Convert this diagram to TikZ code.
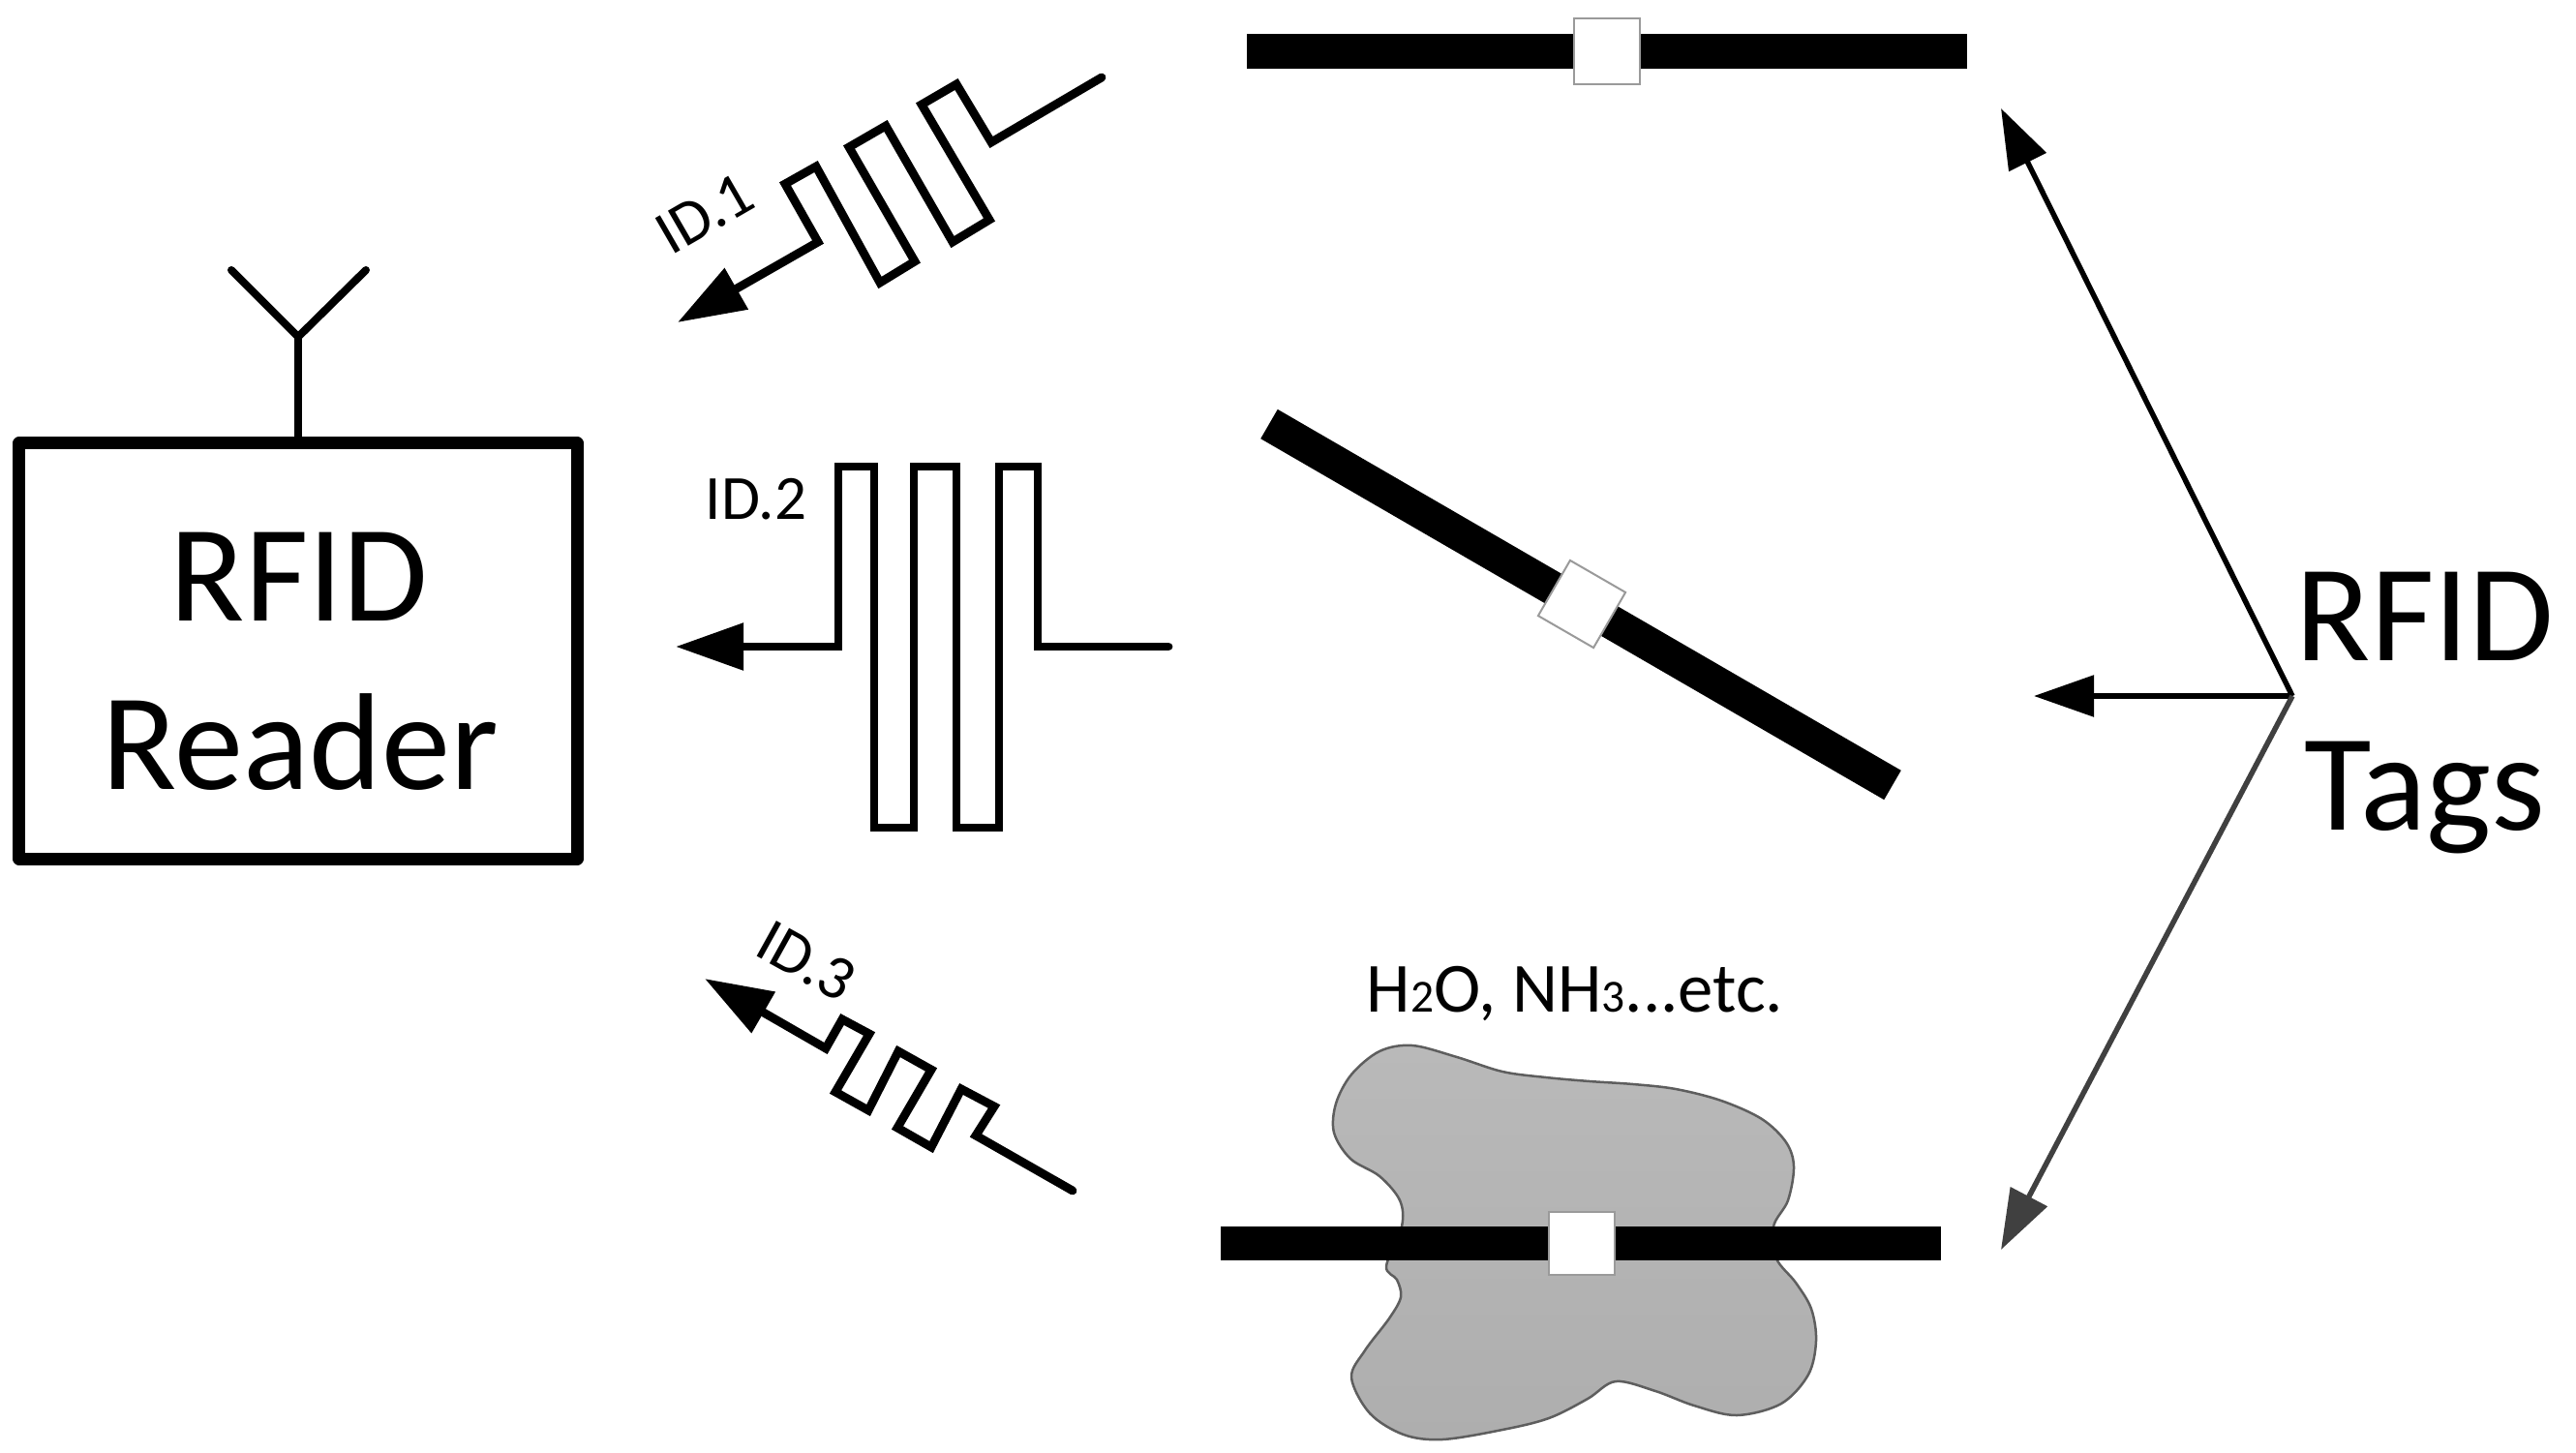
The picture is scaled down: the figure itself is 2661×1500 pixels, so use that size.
\documentclass[tikz,border=0pt]{standalone}
\usepackage{fontspec}
\setmainfont{Carlito}
\usetikzlibrary{arrows.meta}
\definecolor{bloblight}{HTML}{B9B9B9}
\definecolor{blobdark}{HTML}{AEAEAE}
\definecolor{blobedge}{HTML}{5E5E5E}
\definecolor{squareedge}{HTML}{9A9A9A}
\definecolor{hubgray}{HTML}{404040}
\tikzset{
  wave/.style={line width=0.088cm, line join=miter, line cap=round, -{Triangle[length=0.70cm,width=0.47cm]}},
  hubline/.style={line width=0.055cm, -{Triangle[length=0.62cm,width=0.42cm]}},
  tagbar/.style={line width=0.35cm, line cap=butt, black},
  chip/.style={draw=squareedge, line width=0.02cm, fill=white, inner sep=0pt},
  bigtext/.style={font=\fontsize{40.5}{40}\selectfont, anchor=base, inner sep=0pt},
  idtext/.style={font=\fontsize{18.5}{18}\selectfont, inner sep=0pt},
  readerbox/.style={draw=black, line width=0.13cm, line join=round, fill=white, inner sep=0pt, minimum width=5.76cm, minimum height=4.29cm},
  antenna/.style={line width=0.08cm, line join=miter, line cap=round}
}
\begin{document}
\begin{tikzpicture}[x=0.01cm,y=-0.01cm]
\useasboundingbox (0,0) rectangle (2661,1500);

% reader
\node[readerbox] (reader) at (308,672.5) {};
\coordinate (antjoin) at (308,348);
\coordinate (antl) at (239,279);
\coordinate (antr) at (378,279);
\draw[antenna] (reader.north) -- (antjoin);
\draw[antenna] (antl) -- (antjoin) -- (antr);
\node[bigtext] (rfidr) at (309,641) {RFID};
\node[bigtext] (readerlabel) at (310,815) {Reader};

% waves
\draw[wave] (1138,80) -- (1024,147) -- (988,87) -- (952,108) -- (1022,227) -- (984,250) -- (915,130) -- (877,152) -- (945,270) -- (909,292) -- (843,172) -- (811,190) -- (845,250) -- (700,333);
\draw[wave] (1207,668) -- (1072,668) -- (1072,482) -- (1032,482) -- (1032,855) -- (988,855) -- (988,482) -- (944,482) -- (944,855) -- (903,855) -- (903,482) -- (866,482) -- (866,668) -- (698,668);
\draw[wave] (1108,1230) -- (1008,1173) -- (1027,1143) -- (993,1125) -- (962,1185) -- (927,1165) -- (962,1105) -- (928,1086) -- (897,1147) -- (863,1128) -- (898,1068) -- (870,1053) -- (853,1083) -- (728,1011);
\node[idtext, rotate=30] (id1) at (728,221) {ID.1};
\node[idtext, anchor=base] (id2) at (781,536) {ID.2};
\node[idtext, rotate=-29] (id3) at (833,993) {ID.3};

% tag 1
\coordinate (t1a) at (1288,53);
\coordinate (t1b) at (2032,53);
\draw[tagbar] (t1a) -- (t1b);
\node[chip, minimum width=0.68cm, minimum height=0.68cm] (chip1) at (1660,53) {};

% tag 2
\coordinate (t2a) at (1311,438);
\coordinate (t2b) at (1955,811);
\draw[tagbar] (t2a) -- (t2b);
\node[chip, rotate=-30, minimum width=0.66cm, minimum height=0.66cm] (chip2) at (1634,624) {};

% blob
\path[draw=blobedge, line width=0.025cm, top color=bloblight, bottom color=blobdark]
  plot[smooth cycle, tension=0.55] coordinates {
  (1459,1080) (1505,1092) (1552,1107) (1597,1113) (1642,1117) (1687,1120) (1731,1125) (1778,1137)
  (1820,1156) (1845,1180) (1853,1205) (1847,1240) (1832,1267) (1835,1300) (1855,1325) (1871,1352)
  (1876,1385) (1868,1420) (1840,1450) (1794,1462) (1750,1452) (1710,1437) (1669,1427) (1640,1445)
  (1600,1465) (1552,1477) (1490,1487) (1450,1482) (1415,1460) (1396,1423) (1410,1395) (1435,1362)
  (1447,1340) (1443,1322) (1432,1308) (1448,1267) (1446,1240) (1425,1215) (1395,1197) (1378,1170)
  (1380,1140) (1396,1110) (1425,1086)};

% tag 3
\coordinate (t3a) at (1261,1284);
\coordinate (t3b) at (2005,1284);
\draw[tagbar] (t3a) -- (t3b);
\node[chip, minimum width=0.68cm, minimum height=0.65cm] (chip3) at (1634,1284.5) {};
\node[anchor=base, inner sep=0pt, font=\fontsize{20.7}{20}\selectfont] (water) at (1627,1045)
  {H{\fontsize{13.5}{13}\selectfont 2}O, NH{\fontsize{13.5}{13}\selectfont 3}...etc.};

% hub arrows
\coordinate (hub) at (2368,719);
\coordinate (tipa) at (2067,112);
\coordinate (tipb) at (2101,719);
\coordinate (tipc) at (2067,1291);
\draw[hubline] (hub) -- (tipa);
\draw[hubline] (hub) -- (tipb);
\draw[hubline, hubgray] (hub) -- (tipc);
\node[bigtext] (rfidt) at (2505,682) {RFID};
\node[bigtext] (tags) at (2505,857) {Tags};
\end{tikzpicture}
\end{document}
